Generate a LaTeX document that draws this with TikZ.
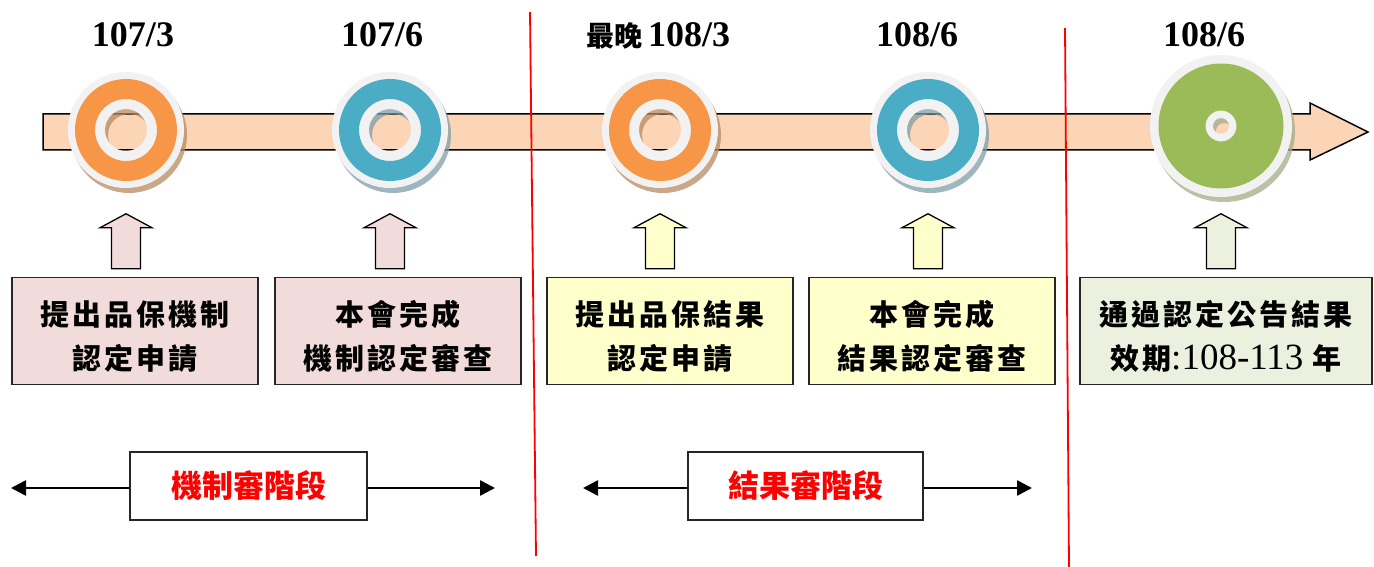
\documentclass[tikz,border=0pt]{standalone}
\usepackage{fontspec}
\setmainfont{Liberation Serif}
\newfontfamily\cjk{Noto Sans CJK TC}
\newfontfamily\cjksp{Noto Sans CJK TC}[LetterSpace=10]
\usetikzlibrary{arrows.meta,calc}
\definecolor{shaftfill}{HTML}{FBD5B5}
\definecolor{orangec}{HTML}{F79646}
\definecolor{bluec}{HTML}{4BACC6}
\definecolor{greenc}{HTML}{9BBB59}
\definecolor{ringgray}{HTML}{F2F2F2}
\definecolor{orangesh}{HTML}{B98A62}
\definecolor{bluesh}{HTML}{7F9DA8}
\definecolor{greensh}{HTML}{A3AD88}
\definecolor{pinkbox}{HTML}{F2DCDB}
\definecolor{yellowbox}{HTML}{FFFFCC}
\definecolor{greenbox}{HTML}{EBF1DE}
\definecolor{redtxt}{HTML}{FF0000}
\definecolor{boxline}{HTML}{262626}
\tikzset{
  datelbl/.style={anchor=base,font=\fontsize{36}{40}\selectfont\bfseries,inner sep=0pt},
  infobox/.style={draw=boxline,line width=1.5pt,minimum width=246pt,minimum height=107pt,
    font=\cjksp\bfseries\fontsize{29}{44}\selectfont,inner sep=0pt},
  phasebox/.style={draw=boxline,line width=1.5pt,fill=white,minimum height=68pt,
    font=\cjk\bfseries\fontsize{31}{36}\selectfont,text=redtxt,inner sep=0pt},
  uparrowshape/.style={draw=black,line width=1.3pt,line join=miter},
  phasearrow/.style={line width=2.6pt,-{Triangle[length=15pt,width=15pt]}},
  divider/.style={draw=red,line width=1.8pt},
  marker/.style={circle,minimum size=116pt,inner sep=0pt}
}
\newcommand{\ringmark}[7]{% node, outer R, ring outer, ring inner, hole, color, shadow
  \fill[#7,opacity=.75,even odd rule] ($(#1)+(3pt,-5pt)$) circle[radius=#2] ($(#1)+(3pt,-5pt)$) circle[radius=#5];
  \fill[ringgray,even odd rule] (#1) circle[radius=#2] (#1) circle[radius=#5];
  \fill[#6,even odd rule] (#1) circle[radius=#3] (#1) circle[radius=#4];
}
\newcommand{\blockup}[3]{% x-ref node, box node, fill
  \draw[uparrowshape,fill=#3] ($(#1|-#2.north)+(-14.5,-8)$) -- ++(0,-41) -- ++(-11.5,0) -- ++(26,-14)
    -- ++(26,14) -- ++(-11.5,0) -- ++(0,41) -- cycle;
}
\newcommand{\twolines}[2]{\raisebox{-8pt}[\height][\depth]{\begin{tabular}{@{}c@{}}#1\\#2\end{tabular}}}
\begin{document}
\begin{tikzpicture}[x=1pt,y=-1pt]
\useasboundingbox (0,0) rectangle (1374,567);
% main timeline arrow
\draw[fill=shaftfill,line width=1.5pt,line join=miter] (43,114) -- (1310,114) -- (1310,103) -- (1368,132)
  -- (1310,160) -- (1310,150) -- (43,150) -- cycle;
% dividers
\coordinate (d1a) at (530,12); \coordinate (d1b) at (536,556);
\coordinate (d2a) at (1065,28); \coordinate (d2b) at (1069,567);
\draw[divider] (d1a) -- (d1b);
\draw[divider] (d2a) -- (d2b);
% milestones
\node[marker] (m1) at (126,130) {};
\node[marker] (m2) at (390,130) {};
\node[marker] (m3) at (660,130) {};
\node[marker] (m4) at (928,130) {};
\node[marker,minimum size=142pt] (m5) at (1221,126) {};
\ringmark{m1}{58pt}{51pt}{31pt}{21pt}{orangec}{orangesh}
\ringmark{m2}{58pt}{51pt}{31pt}{21pt}{bluec}{bluesh}
\ringmark{m3}{58pt}{51pt}{31pt}{21pt}{orangec}{orangesh}
\ringmark{m4}{58pt}{51pt}{31pt}{21pt}{bluec}{bluesh}
\ringmark{m5}{71pt}{62.5pt}{15.5pt}{8pt}{greenc}{greensh}
% dates
\node[datelbl] (t1) at (133,47) {107/3};
\node[datelbl] (t2) at (382,47) {107/6};
\node[datelbl] (t3) at (658,47) {{\cjk\fontsize{28}{30}\selectfont 最晚}\,108/3};
\node[datelbl] (t4) at (917,47) {108/6};
\node[datelbl] (t5) at (1204,47) {108/6};
% info boxes
\node[infobox,fill=pinkbox] (b1) at (135,331) {\twolines{提出品保機制}{認定申請}};
\node[infobox,fill=pinkbox] (b2) at (398,331) {\twolines{本會完成}{機制認定審查}};
\node[infobox,fill=yellowbox] (b3) at (670,331) {\twolines{提出品保結果}{認定申請}};
\node[infobox,fill=yellowbox] (b4) at (932,331) {\twolines{本會完成}{結果認定審查}};
\node[infobox,fill=greenbox,minimum width=292pt] (b5) at (1226,331) {\twolines{通過認定公告結果}{效期{\rmfamily\mdseries\fontsize{37}{44}\selectfont :108-113 }年}};
% up arrows
\blockup{m1}{b1}{pinkbox}
\blockup{m2}{b2}{pinkbox}
\blockup{m3}{b3}{yellowbox}
\blockup{m4}{b4}{yellowbox}
\blockup{m5}{b5}{greenbox}
% phases
\node[phasebox,minimum width=237pt] (p1) at (248.5,486) {機制審階段};
\node[phasebox,minimum width=235pt] (p2) at (805.5,486) {結果審階段};
\coordinate (p1l) at (11,488); \coordinate (p1r) at (495,488);
\coordinate (p2l) at (583,488); \coordinate (p2r) at (1032,488);
\draw[phasearrow] (p1.west|-p1l) -- (p1l);
\draw[phasearrow] (p1.east|-p1r) -- (p1r);
\draw[phasearrow] (p2.west|-p2l) -- (p2l);
\draw[phasearrow] (p2.east|-p2r) -- (p2r);
\end{tikzpicture}
\end{document}
